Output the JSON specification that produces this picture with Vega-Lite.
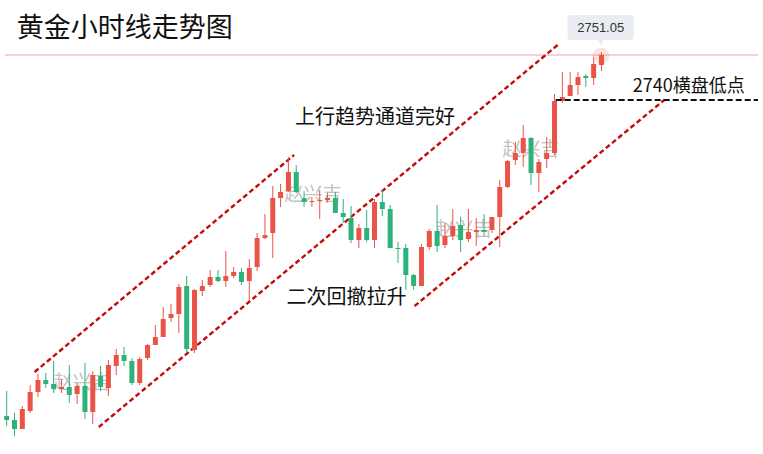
{
  "$schema": "https://vega.github.io/schema/vega-lite/v6.json",
  "width": 763,
  "height": 454,
  "autosize": {"type": "fit", "contains": "padding"},
  "padding": 0,
  "background": "white",
  "config": {"view": {"stroke": null}},
  "datasets": {
    "candles": [
      {"i":0,"o":2662.39,"c":2661.41,"h":2668.53,"l":2659.93},
      {"i":1,"o":2661.41,"c":2659.20,"h":2663.13,"l":2657.48},
      {"i":2,"o":2659.20,"c":2664.11,"h":2664.85,"l":2659.20},
      {"i":3,"o":2663.62,"c":2668.29,"h":2670.00,"l":2663.13},
      {"i":4,"o":2668.29,"c":2671.23,"h":2672.71,"l":2667.06},
      {"i":5,"o":2671.23,"c":2670.25,"h":2672.95,"l":2669.27},
      {"i":6,"o":2670.25,"c":2669.02,"h":2675.90,"l":2668.04},
      {"i":7,"o":2669.02,"c":2669.51,"h":2671.48,"l":2668.04},
      {"i":8,"o":2669.51,"c":2667.55,"h":2674.92,"l":2665.58},
      {"i":9,"o":2667.79,"c":2669.76,"h":2670.50,"l":2665.34},
      {"i":10,"o":2669.76,"c":2663.37,"h":2675.41,"l":2661.65},
      {"i":11,"o":2663.37,"c":2672.46,"h":2673.44,"l":2660.43},
      {"i":12,"o":2672.21,"c":2669.51,"h":2674.67,"l":2668.53},
      {"i":13,"o":2669.27,"c":2674.92,"h":2676.14,"l":2667.30},
      {"i":14,"o":2674.67,"c":2677.37,"h":2678.85,"l":2672.46},
      {"i":15,"o":2677.37,"c":2675.90,"h":2679.34,"l":2674.67},
      {"i":16,"o":2675.90,"c":2670.50,"h":2676.64,"l":2670.00},
      {"i":17,"o":2670.50,"c":2676.39,"h":2676.88,"l":2670.00},
      {"i":18,"o":2676.64,"c":2679.83,"h":2680.07,"l":2676.14},
      {"i":19,"o":2679.83,"c":2681.79,"h":2684.74,"l":2679.83},
      {"i":20,"o":2681.79,"c":2686.21,"h":2689.16,"l":2681.79},
      {"i":21,"o":2686.46,"c":2687.44,"h":2689.90,"l":2685.48},
      {"i":22,"o":2687.44,"c":2694.07,"h":2694.81,"l":2682.78},
      {"i":23,"o":2694.32,"c":2678.85,"h":2696.77,"l":2677.86},
      {"i":24,"o":2678.60,"c":2693.34,"h":2693.58,"l":2677.86},
      {"i":25,"o":2693.09,"c":2694.32,"h":2695.79,"l":2691.86},
      {"i":26,"o":2694.56,"c":2696.53,"h":2698.25,"l":2694.07},
      {"i":27,"o":2696.53,"c":2695.55,"h":2698.25,"l":2695.30},
      {"i":28,"o":2695.55,"c":2696.77,"h":2702.91,"l":2694.07},
      {"i":29,"o":2696.77,"c":2697.76,"h":2698.99,"l":2696.28},
      {"i":30,"o":2697.76,"c":2695.30,"h":2698.74,"l":2694.56},
      {"i":31,"o":2695.55,"c":2698.74,"h":2700.95,"l":2690.63},
      {"i":32,"o":2698.99,"c":2706.11,"h":2707.34,"l":2698.00},
      {"i":33,"o":2706.11,"c":2706.84,"h":2712.00,"l":2705.86},
      {"i":34,"o":2707.34,"c":2715.93,"h":2718.88,"l":2701.20},
      {"i":35,"o":2715.93,"c":2717.41,"h":2719.37,"l":2713.72},
      {"i":36,"o":2717.65,"c":2722.32,"h":2726.00,"l":2717.41},
      {"i":37,"o":2722.32,"c":2717.41,"h":2724.04,"l":2717.16},
      {"i":38,"o":2715.93,"c":2714.95,"h":2717.65,"l":2713.72},
      {"i":39,"o":2714.95,"c":2715.19,"h":2716.18,"l":2713.72},
      {"i":40,"o":2715.19,"c":2715.44,"h":2717.90,"l":2710.77},
      {"i":41,"o":2715.44,"c":2715.93,"h":2717.16,"l":2714.95},
      {"i":42,"o":2715.93,"c":2712.25,"h":2717.41,"l":2712.25},
      {"i":43,"o":2712.25,"c":2711.27,"h":2715.68,"l":2709.79},
      {"i":44,"o":2711.02,"c":2705.62,"h":2713.97,"l":2704.88},
      {"i":45,"o":2705.62,"c":2708.56,"h":2709.55,"l":2703.65},
      {"i":46,"o":2708.56,"c":2705.62,"h":2712.98,"l":2705.13},
      {"i":47,"o":2705.62,"c":2714.95,"h":2715.68,"l":2703.65},
      {"i":48,"o":2714.95,"c":2713.23,"h":2718.14,"l":2711.51},
      {"i":49,"o":2713.23,"c":2703.65,"h":2714.21,"l":2703.65},
      {"i":50,"o":2703.65,"c":2703.41,"h":2705.13,"l":2699.97},
      {"i":51,"o":2703.65,"c":2697.02,"h":2704.63,"l":2693.34},
      {"i":52,"o":2697.02,"c":2694.32,"h":2697.27,"l":2693.34},
      {"i":53,"o":2694.32,"c":2703.90,"h":2704.63,"l":2694.32},
      {"i":54,"o":2703.90,"c":2707.83,"h":2708.32,"l":2703.16},
      {"i":55,"o":2707.83,"c":2704.14,"h":2714.21,"l":2702.67},
      {"i":56,"o":2704.39,"c":2706.60,"h":2709.79,"l":2703.65},
      {"i":57,"o":2706.60,"c":2709.05,"h":2713.23,"l":2705.62},
      {"i":58,"o":2709.30,"c":2705.62,"h":2711.27,"l":2702.67},
      {"i":59,"o":2705.86,"c":2707.58,"h":2713.23,"l":2705.13},
      {"i":60,"o":2707.58,"c":2708.07,"h":2711.02,"l":2704.14},
      {"i":61,"o":2708.07,"c":2707.58,"h":2712.00,"l":2706.60},
      {"i":62,"o":2708.07,"c":2711.27,"h":2711.27,"l":2707.34},
      {"i":63,"o":2711.27,"c":2718.63,"h":2720.35,"l":2703.90},
      {"i":64,"o":2718.63,"c":2725.02,"h":2725.26,"l":2718.39},
      {"i":65,"o":2725.26,"c":2726.98,"h":2729.69,"l":2724.04},
      {"i":66,"o":2726.98,"c":2730.67,"h":2733.86,"l":2723.55},
      {"i":67,"o":2730.67,"c":2722.07,"h":2730.91,"l":2719.12},
      {"i":68,"o":2722.07,"c":2724.77,"h":2725.51,"l":2717.41},
      {"i":69,"o":2725.51,"c":2726.98,"h":2730.91,"l":2723.30},
      {"i":70,"o":2726.98,"c":2739.75,"h":2741.47,"l":2726.49},
      {"i":71,"o":2739.75,"c":2740.74,"h":2746.88,"l":2739.26},
      {"i":72,"o":2740.98,"c":2743.68,"h":2746.88,"l":2740.98},
      {"i":73,"o":2743.68,"c":2745.65,"h":2746.88,"l":2741.23},
      {"i":74,"o":2745.90,"c":2745.41,"h":2746.39,"l":2743.19},
      {"i":75,"o":2745.41,"c":2748.84,"h":2750.50,"l":2743.68},
      {"i":76,"o":2748.60,"c":2751.05,"h":2751.79,"l":2747.12}
    ],
    "channels": [
      {"i":3.57,"p":2673.20,"i2":36.73,"p2":2726.49},
      {"i":11.77,"p":2659.69,"i2":70.40,"p2":2753.51},
      {"i":52.12,"p":2689.41,"i2":84.02,"p2":2740.0}
    ],
    "support": [{"i":70.15,"p":2740.0,"i2":96.0,"p2":2740.0}],
    "priceline": [{"i":-0.214,"p":2751.05,"i2":96.0,"p2":2751.05}],
    "watermarks": [
      {"i":9.62,"p":2670.49,"t":"赵兴吉"},
      {"i":39.13,"p":2716.67,"t":"赵兴吉"},
      {"i":58.42,"p":2708.07,"t":"赵兴吉"},
      {"i":67.0,"p":2727.72,"t":"赵兴吉"}
    ]
  },
  "layer": [
    {
      "data": {"name": "priceline"},
      "mark": {"type": "rule", "color": "#eaa59e", "strokeWidth": 1},
      "encoding": {
        "x": {"field": "i", "type": "quantitative", "scale": {"domain": [-0.214, 96.0], "nice": false, "zero": false}, "axis": null},
        "x2": {"field": "i2"},
        "y": {"field": "p", "type": "quantitative", "scale": {"domain": [2653.06, 2764.56], "nice": false, "zero": false}, "axis": null},
        "y2": {"field": "p2"}
      }
    },
    {
      "data": {"name": "watermarks"},
      "mark": {"type": "text", "font": "Noto Sans CJK SC", "fontSize": 19, "color": "#bcbcbc", "opacity": 0.9, "align": "center", "baseline": "middle"},
      "encoding": {
        "x": {"field": "i", "type": "quantitative", "scale": {"domain": [-0.214, 96.0], "nice": false, "zero": false}, "axis": null},
        "y": {"field": "p", "type": "quantitative", "scale": {"domain": [2653.06, 2764.56], "nice": false, "zero": false}, "axis": null},
        "text": {"field": "t"}
      }
    },
    {
      "data": {"name": "channels"},
      "mark": {"type": "rule", "color": "#c40a0a", "strokeWidth": 2.4, "strokeDash": [5, 3]},
      "encoding": {
        "x": {"field": "i", "type": "quantitative", "scale": {"domain": [-0.214, 96.0], "nice": false, "zero": false}, "axis": null},
        "x2": {"field": "i2"},
        "y": {"field": "p", "type": "quantitative", "scale": {"domain": [2653.06, 2764.56], "nice": false, "zero": false}, "axis": null},
        "y2": {"field": "p2"}
      }
    },
    {
      "data": {"values": [{"i": 75.95, "p": 2750.8}]},
      "mark": {"type": "point", "filled": true, "color": "#f06a60", "opacity": 0.18, "size": 280},
      "encoding": {
        "x": {"field": "i", "type": "quantitative", "scale": {"domain": [-0.214, 96.0], "nice": false, "zero": false}, "axis": null},
        "y": {"field": "p", "type": "quantitative", "scale": {"domain": [2653.06, 2764.56], "nice": false, "zero": false}, "axis": null}
      }
    },
    {
      "data": {"name": "candles"},
      "mark": {"type": "rule", "strokeWidth": 1},
      "encoding": {
        "x": {"field": "i", "type": "quantitative", "scale": {"domain": [-0.214, 96.0], "nice": false, "zero": false}, "axis": null},
        "y": {"field": "l", "type": "quantitative", "scale": {"domain": [2653.06, 2764.56], "nice": false, "zero": false}, "axis": null},
        "y2": {"field": "h"},
        "color": {"condition": {"test": "datum.c >= datum.o", "value": "#ea5448"}, "value": "#2cb27a"}
      }
    },
    {
      "data": {"name": "candles"},
      "mark": {"type": "bar", "size": 5},
      "encoding": {
        "x": {"field": "i", "type": "quantitative", "scale": {"domain": [-0.214, 96.0], "nice": false, "zero": false}, "axis": null},
        "y": {"field": "o", "type": "quantitative", "scale": {"domain": [2653.06, 2764.56], "nice": false, "zero": false}, "axis": null},
        "y2": {"field": "c"},
        "color": {"condition": {"test": "datum.c >= datum.o", "value": "#ea5448"}, "value": "#2cb27a"}
      }
    },
    {
      "data": {"name": "support"},
      "mark": {"type": "rule", "color": "#111111", "strokeWidth": 2, "strokeDash": [6, 3]},
      "encoding": {
        "x": {"field": "i", "type": "quantitative", "scale": {"domain": [-0.214, 96.0], "nice": false, "zero": false}, "axis": null},
        "x2": {"field": "i2"},
        "y": {"field": "p", "type": "quantitative", "scale": {"domain": [2653.06, 2764.56], "nice": false, "zero": false}, "axis": null},
        "y2": {"field": "p2"}
      }
    },
    {
      "data": {"values": [{"i": 71.66, "i2": 80.11, "p": 2760.88, "p2": 2754.74}]},
      "mark": {"type": "rect", "color": "#e9ecf0", "cornerRadius": 3},
      "encoding": {
        "x": {"field": "i", "type": "quantitative", "scale": {"domain": [-0.214, 96.0], "nice": false, "zero": false}, "axis": null},
        "x2": {"field": "i2"},
        "y": {"field": "p", "type": "quantitative", "scale": {"domain": [2653.06, 2764.56], "nice": false, "zero": false}, "axis": null},
        "y2": {"field": "p2"}
      }
    },
    {
      "data": {"values": [{"i": 75.9, "p": 2754.2}]},
      "mark": {"type": "point", "shape": "triangle-down", "filled": true, "color": "#e9ecf0", "opacity": 1, "size": 45},
      "encoding": {
        "x": {"field": "i", "type": "quantitative", "scale": {"domain": [-0.214, 96.0], "nice": false, "zero": false}, "axis": null},
        "y": {"field": "p", "type": "quantitative", "scale": {"domain": [2653.06, 2764.56], "nice": false, "zero": false}, "axis": null}
      }
    },
    {
      "data": {"values": [{"i": 75.9, "p": 2757.68, "t": "2751.05"}]},
      "mark": {"type": "text", "font": "Liberation Sans", "fontSize": 13, "color": "#333333", "align": "center", "baseline": "middle"},
      "encoding": {
        "x": {"field": "i", "type": "quantitative", "scale": {"domain": [-0.214, 96.0], "nice": false, "zero": false}, "axis": null},
        "y": {"field": "p", "type": "quantitative", "scale": {"domain": [2653.06, 2764.56], "nice": false, "zero": false}, "axis": null},
        "text": {"field": "t"}
      }
    },
    {
      "data": {"values": [{"i": 1.3, "p": 2757.44, "t": "黄金小时线走势图"}]},
      "mark": {"type": "text", "font": "Noto Sans CJK SC", "fontSize": 27, "color": "#111111", "align": "left", "baseline": "middle"},
      "encoding": {
        "x": {"field": "i", "type": "quantitative", "scale": {"domain": [-0.214, 96.0], "nice": false, "zero": false}, "axis": null},
        "y": {"field": "p", "type": "quantitative", "scale": {"domain": [2653.06, 2764.56], "nice": false, "zero": false}, "axis": null},
        "text": {"field": "t"}
      }
    },
    {
      "data": {"values": [
        {"i": 47.07, "p": 2735.58, "t": "上行趋势通道完好"},
        {"i": 43.42, "p": 2691.37, "t": "二次回撤拉升"}
      ]},
      "mark": {"type": "text", "font": "Noto Sans CJK SC", "fontSize": 20, "color": "#111111", "align": "center", "baseline": "middle"},
      "encoding": {
        "x": {"field": "i", "type": "quantitative", "scale": {"domain": [-0.214, 96.0], "nice": false, "zero": false}, "axis": null},
        "y": {"field": "p", "type": "quantitative", "scale": {"domain": [2653.06, 2764.56], "nice": false, "zero": false}, "axis": null},
        "text": {"field": "t"}
      }
    },
    {
      "data": {"values": [{"i": 79.99, "p": 2743.19, "t": "2740横盘低点"}]},
      "mark": {"type": "text", "font": "Noto Sans CJK SC", "fontSize": 18, "color": "#111111", "align": "left", "baseline": "middle"},
      "encoding": {
        "x": {"field": "i", "type": "quantitative", "scale": {"domain": [-0.214, 96.0], "nice": false, "zero": false}, "axis": null},
        "y": {"field": "p", "type": "quantitative", "scale": {"domain": [2653.06, 2764.56], "nice": false, "zero": false}, "axis": null},
        "text": {"field": "t"}
      }
    }
  ]
}
